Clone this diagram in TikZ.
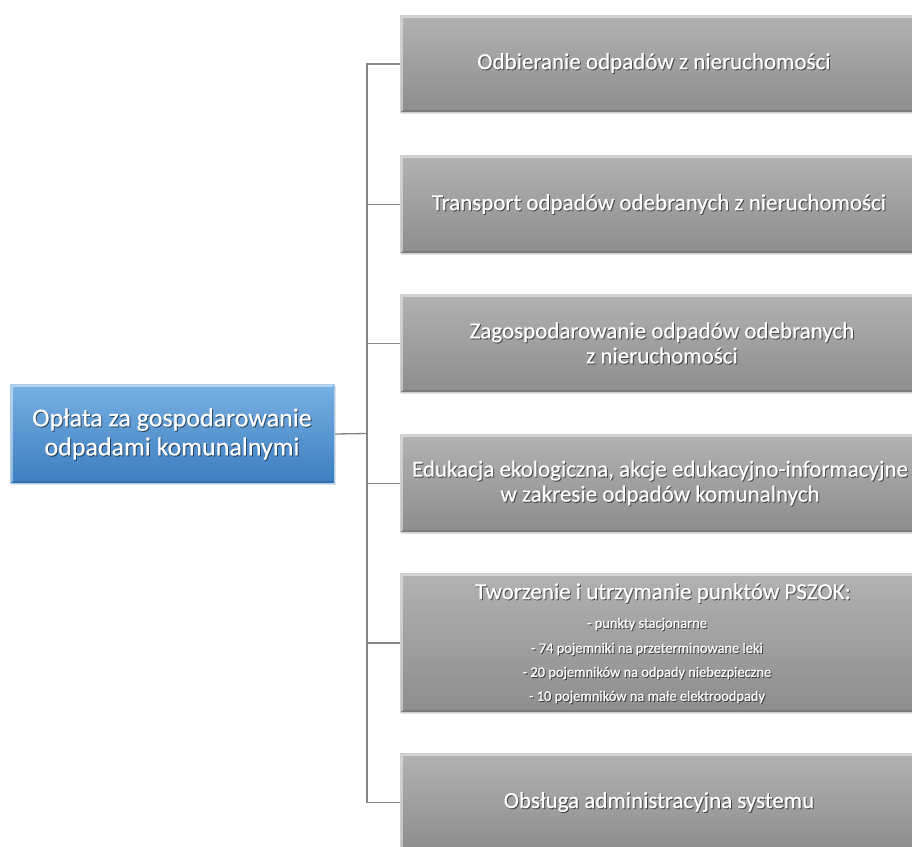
\documentclass[tikz,border=0pt]{standalone}
\usepackage{fontspec}
\setmainfont{Carlito}[UprightFeatures={FakeBold=0.4}]
\usetikzlibrary{shadows,calc}
\definecolor{gtop}{HTML}{B2B2B2}
\definecolor{gbot}{HTML}{8D8D8D}
\definecolor{gbord}{HTML}{CFCFCF}
\definecolor{btop}{HTML}{78B0E2}
\definecolor{bbot}{HTML}{3B7EC0}
\definecolor{bbord}{HTML}{A9CBEB}
\definecolor{conn}{HTML}{858585}
\tikzset{
  greybox/.style={draw=gbord, line width=1pt, top color=gtop, bottom color=gbot,
    anchor=north west, minimum width=520pt, inner sep=0pt,
    drop shadow={opacity=0.22, shadow xshift=1.2pt, shadow yshift=-1.8pt}},
  bluebox/.style={draw=bbord, line width=1pt, top color=btop, bottom color=bbot,
    anchor=north west, minimum width=324pt, minimum height=99pt, inner sep=0pt,
    drop shadow={opacity=0.22, shadow xshift=1.2pt, shadow yshift=-1.8pt}},
  txtmain/.style={text=white, inner sep=0pt, align=center},
  txtshadow/.style={text=black, opacity=0.5, inner sep=0pt, align=center},
  bigfont/.style={font=\fontsize{23}{25}\selectfont},
  smallfont/.style={font=\fontsize{14.4}{16}\selectfont},
  leftfont/.style={font=\fontsize{26}{29}\selectfont},
  connector/.style={draw=conn, line width=1.3pt},
}
\newcommand\boxlabel[4]{%
  \node[txtshadow,#3] (#1s) at ($(#2)+(1pt,-1pt)$) {#4};
  \node[txtmain,#3] (#1) at (#2) {#4};}
\begin{document}
\begin{tikzpicture}[x=1pt,y=-1pt]
\fill[white] (0,0) rectangle (912,846);
\useasboundingbox (0,0) rectangle (912,846);
\clip (0,0) rectangle (912,846);

% boxes
\node[bluebox] (L) at (10,384) {};
\node[greybox, minimum height=97pt] (b1) at (400,15) {};
\node[greybox, minimum height=98pt] (b2) at (400,155) {};
\node[greybox, minimum height=98pt] (b3) at (400,294) {};
\node[greybox, minimum height=98pt] (b4) at (400,434) {};
\node[greybox, minimum height=139pt] (b5) at (400,573) {};
\node[greybox, minimum height=98pt] (b6) at (400,753) {};

% bevel highlights
\foreach \b in {b1,b2,b3,b4,b5,b6,L}{
  \draw[white, opacity=0.45, line width=1.6pt]
    ([xshift=2pt,yshift=2pt]\b.south west) -- ([xshift=2pt,yshift=-2pt]\b.north west)
    -- ([xshift=-2pt,yshift=-2pt]\b.north east);
  \draw[black, opacity=0.12, line width=1.6pt]
    ([xshift=2pt,yshift=2pt]\b.south west) -- ([xshift=-2pt,yshift=2pt]\b.south east);
}

% connectors
\coordinate (bus) at (367,433.5);
\draw[connector] (L.east) -- (bus);
\draw[connector] (b1.west) -| (bus);
\draw[connector] (b2.west) -| (bus);
\draw[connector] (b3.west) -| (bus);
\draw[connector] (b4.west) -| (bus);
\draw[connector] (b5.west) -| (bus);
\draw[connector] (b6.west) -| (bus);

% texts
\boxlabel{tL}{172,434}{leftfont}{Opłata za gospodarowanie\\odpadami komunalnymi}
\boxlabel{t1}{654,63}{bigfont}{Odbieranie odpadów z nieruchomości}
\boxlabel{t2}{659,204}{bigfont}{Transport odpadów odebranych z nieruchomości}
\boxlabel{t3}{662,343}{bigfont}{Zagospodarowanie odpadów odebranych\\z nieruchomości}
\boxlabel{t4}{660,483}{bigfont}{Edukacja ekologiczna, akcje edukacyjno-informacyjne\\w zakresie odpadów komunalnych}
\boxlabel{t5}{663,593}{bigfont}{Tworzenie i utrzymanie punktów PSZOK:}
\boxlabel{t5a}{647,624}{smallfont}{- punkty stacjonarne}
\boxlabel{t5b}{647,649}{smallfont}{- 74 pojemniki na przeterminowane leki}
\boxlabel{t5c}{647,673}{smallfont}{- 20 pojemników na odpady niebezpieczne}
\boxlabel{t5d}{647,697}{smallfont}{- 10 pojemników na małe elektroodpady}
\boxlabel{t6}{659,802}{bigfont}{Obsługa administracyjna systemu}
\end{tikzpicture}
\end{document}
